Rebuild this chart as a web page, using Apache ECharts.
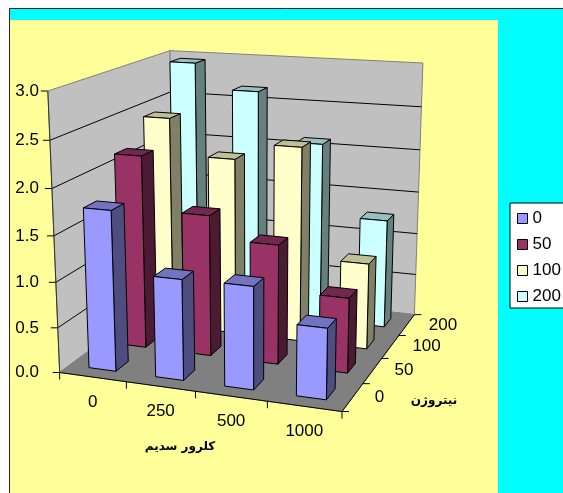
<!DOCTYPE html>
<html>
<head>
<meta charset="utf-8">
<style>html,body{margin:0;padding:0;background:#fff}#chart{width:563px;height:493px}</style>
<script src="https://cdn.jsdelivr.net/npm/echarts@6/dist/echarts.min.js"></script>
</head>
<body>
<div id="chart"></div>
<script>
// Sodium chloride levels along the front, nitrogen levels along the depth axis
var categories = ['0', '250', '500', '1000'];
var depthLabels = ['0', '50', '100', '200'];
var valueTicks = [0, 0.5, 1, 1.5, 2, 2.5, 3];
var values0 = [1.76, 1.1, 1.11, 0.76];
var values50 = [2.17, 1.58, 1.33, 0.83];
var values100 = [2.44, 2.03, 2.22, 0.98];
var values200 = [2.95, 2.66, 2.1, 1.27];
var seriesValues = [values0, values50, values100, values200];

var xTitle = 'کلرور سدیم';
var depthTitle = 'نیتروژن';

// front, side and top face colours for each series
var palette = [
  ['#9999FF', '#4D4D80', '#7373BF'],
  ['#993366', '#4D1A33', '#732650'],
  ['#FFFFCC', '#808066', '#BFBF99'],
  ['#CCFFFF', '#668080', '#99BFBF']
];

// Reference points of the plot box: [u, v, h] in the unit box -> pixel position.
// u runs along the front edge, v into the depth, h upward.
var boxPoints = [
  [0, 0, 0, 60, 372], [1, 0, 0, 341, 411], [1, 1, 0, 415, 313],
  [0, 0, 1, 49, 90], [0, 1, 1, 169, 50], [1, 1, 1, 423, 63],
  [0, 0, 0.5, 53.5, 236], [1, 1, 0.5, 418.5, 193], [0, 1, 5 / 6, 171, 93],
  [0.25, 0, 0, 126, 382], [0.5, 0, 0, 196, 392], [0.75, 0, 0, 267, 402],
  [1, 0.25, 0, 363, 384], [1, 0.5, 0, 381.5, 358], [1, 0.75, 0, 399, 336]
];

// Least-squares fit of a 3x4 perspective camera through the reference points
function fitCamera(points) {
  var n = 11, i, j, k;
  var A = [], b = [];
  for (i = 0; i < n; i++) { A.push(new Array(n).fill(0)); b.push(0); }
  function addRow(row, rhs) {
    for (var a = 0; a < n; a++) {
      b[a] += row[a] * rhs;
      for (var c = 0; c < n; c++) A[a][c] += row[a] * row[c];
    }
  }
  points.forEach(function (p) {
    var X = p[0], Y = p[1], Z = p[2], x = p[3] / 400, y = p[4] / 400;
    addRow([X, Y, Z, 1, 0, 0, 0, 0, -x * X, -x * Y, -x * Z], x);
    addRow([0, 0, 0, 0, X, Y, Z, 1, -y * X, -y * Y, -y * Z], y);
  });
  for (i = 0; i < n; i++) {
    var pivot = i;
    for (j = i + 1; j < n; j++) if (Math.abs(A[j][i]) > Math.abs(A[pivot][i])) pivot = j;
    var t = A[i]; A[i] = A[pivot]; A[pivot] = t;
    t = b[i]; b[i] = b[pivot]; b[pivot] = t;
    for (j = i + 1; j < n; j++) {
      var f = A[j][i] / A[i][i];
      for (k = i; k < n; k++) A[j][k] -= f * A[i][k];
      b[j] -= f * b[i];
    }
  }
  var m = new Array(n);
  for (i = n - 1; i >= 0; i--) {
    var s = b[i];
    for (k = i + 1; k < n; k++) s -= A[i][k] * m[k];
    m[i] = s / A[i][i];
  }
  return m;
}
var cam = fitCamera(boxPoints);
function project(u, v, h) {
  var w = cam[8] * u + cam[9] * v + cam[10] * h + 1;
  return [
    400 * (cam[0] * u + cam[1] * v + cam[2] * h + cam[3]) / w,
    400 * (cam[4] * u + cam[5] * v + cam[6] * h + cam[7]) / w
  ];
}

var barHalfU = 0.051;
var barHalfV = 0.05;
var labelFont = '17px "Liberation Sans", Arial, sans-serif';
var titleFont = 'bold 12px "DejaVu Sans", sans-serif';

// Height in the unit box, read through the hidden value axis
function heightOf(api, grid, value) {
  return (grid.y + grid.height - api.coord([0, value])[1]) / grid.height;
}

function renderBar(seriesIndex) {
  return function (params, api) {
    var grid = params.coordSys;
    var cat = api.value(0), val = api.value(1);
    var pt = api.coord([cat, val]);
    var uc = (pt[0] - grid.x) / grid.width;
    var h = (grid.y + grid.height - pt[1]) / grid.height;
    var vc = (seriesIndex + 0.5) / depthLabels.length;
    var u0 = uc - barHalfU, u1 = uc + barHalfU, v0 = vc - barHalfV, v1 = vc + barHalfV;
    var c = palette[seriesIndex];
    function face(points, fill) {
      return {
        type: 'polygon',
        shape: { points: points },
        style: { fill: fill, stroke: '#000', lineWidth: 1 }
      };
    }
    return {
      type: 'group',
      children: [
        face([project(u1, v0, 0), project(u1, v1, 0), project(u1, v1, h), project(u1, v0, h)], c[1]),
        face([project(u0, v0, h), project(u1, v0, h), project(u1, v1, h), project(u0, v1, h)], c[2]),
        face([project(u0, v0, 0), project(u1, v0, 0), project(u1, v0, h), project(u0, v0, h)], c[0])
      ]
    };
  };
}

function renderFrame(params, api) {
  var grid = params.coordSys;
  var kids = [];
  function poly(pts, fill) {
    kids.push({ type: 'polygon', shape: { points: pts }, style: { fill: fill, stroke: '#808080', lineWidth: 1 } });
  }
  function seg(a, b, color) {
    kids.push({ type: 'line', shape: { x1: a[0], y1: a[1], x2: b[0], y2: b[1] }, style: { stroke: color || '#000', lineWidth: 1 } });
  }
  function label(text, x, y, align, font) {
    kids.push({ type: 'text', style: { text: text, x: x, y: y, fill: '#000', font: font || labelFont, align: align, verticalAlign: 'middle' } });
  }
  poly([project(0, 0, 0), project(0, 1, 0), project(0, 1, 1), project(0, 0, 1)], '#C0C0C0');
  poly([project(0, 1, 0), project(1, 1, 0), project(1, 1, 1), project(0, 1, 1)], '#C0C0C0');
  poly([project(0, 0, 0), project(1, 0, 0), project(1, 1, 0), project(0, 1, 0)], '#808080');

  valueTicks.forEach(function (t) {
    var h = heightOf(api, grid, t);
    var a = project(0, 0, h), b = project(0, 1, h), c = project(1, 1, h);
    if (t > 0 && t < valueTicks[valueTicks.length - 1]) {
      kids.push({ type: 'polyline', shape: { points: [a, b, c] }, style: { fill: null, stroke: '#000', lineWidth: 1 } });
    }
    seg(a, [a[0] - 7, a[1]]);
    label(t.toFixed(1), 39, a[1], 'right');
  });
  seg(project(0, 0, 0), project(0, 0, 1), '#333');
  seg(project(0, 0, 0), project(1, 0, 0));
  seg(project(1, 0, 0), project(1, 1, 0));

  var i, p;
  for (i = 0; i <= categories.length; i++) {
    p = project(i / categories.length, 0, 0);
    seg(p, [p[0], p[1] + 7]);
  }
  for (i = 0; i <= depthLabels.length; i++) {
    p = project(1, i / depthLabels.length, 0);
    seg(p, [p[0] + 7, p[1]]);
  }
  categories.forEach(function (name, idx) {
    var q = project((idx + 0.5) / categories.length, 0, 0);
    label(name, q[0], q[1] + 25, 'center');
  });
  depthLabels.forEach(function (name, idx) {
    var q = project(1, (idx + 0.5) / depthLabels.length, 0);
    label(name, q[0] + 22, q[1], 'left');
  });
  label(xTitle, 180, 447, 'center', titleFont);
  label(depthTitle, 434, 401, 'center', titleFont);
  return { type: 'group', children: kids };
}

var series = [{
  type: 'custom',
  name: 'frame',
  z: 2,
  silent: true,
  renderItem: renderFrame,
  encode: { x: 0, y: 1 },
  data: [[0, 0]]
}];
depthLabels.forEach(function (name, s) {
  series.push({
    type: 'custom',
    name: name,
    // nearer rows paint over the rows behind them
    z: 10 - s,
    silent: true,
    itemStyle: { color: palette[s][0] },
    renderItem: renderBar(s),
    encode: { x: 0, y: 1 },
    data: seriesValues[s].map(function (v, c) { return [c, v]; })
  });
});

var chart = echarts.init(document.getElementById('chart'), null, { renderer: 'canvas' });
chart.setOption({
  animation: false,
  backgroundColor: '#fff',
  graphic: [
    { type: 'rect', z: 0, shape: { x: 9.5, y: 8.5, width: 570, height: 500 }, style: { fill: '#00FFFF', stroke: '#222', lineWidth: 1 } },
    { type: 'rect', z: 0, shape: { x: 10, y: 20, width: 488, height: 480 }, style: { fill: '#FFFF99' } }
  ],
  grid: { left: 0, right: 0, top: 0, bottom: 0 },
  xAxis: { type: 'category', data: categories, show: false },
  yAxis: { type: 'value', min: 0, max: 3, interval: 0.5, show: false },
  legend: {
    orient: 'vertical',
    left: 510,
    top: 203,
    selectedMode: false,
    data: depthLabels.map(function (n) { return { name: n, icon: 'rect' }; }),
    itemWidth: 10,
    itemHeight: 10,
    itemGap: 9,
    padding: [7, 30, 3, 7],
    backgroundColor: '#fff',
    borderColor: '#000',
    borderWidth: 1,
    itemStyle: { borderColor: '#000', borderWidth: 1 },
    textStyle: { color: '#000', fontSize: 17, fontFamily: '"Liberation Sans", Arial, sans-serif' }
  },
  series: series
});
</script>
</body>
</html>
